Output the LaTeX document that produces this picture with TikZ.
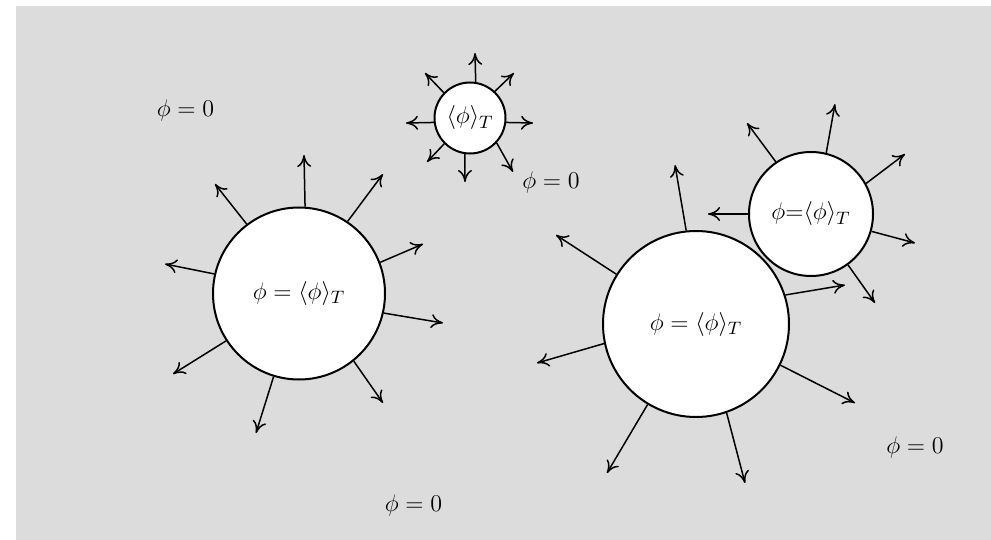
\documentclass[tikz,border=0pt]{standalone}
\usetikzlibrary{arrows.meta}
\definecolor{bggray}{RGB}{220,220,220}
\tikzset{
  bubble/.style={circle, draw=black, line width=1pt, fill=white, inner sep=0pt,
    font=\fontsize{13}{15}\selectfont},
  arr/.style={line width=0.75pt, -{To[length=6pt,width=7pt]}},
  lbl/.style={font=\fontsize{13}{15}\selectfont, inner sep=0pt}
}
\begin{document}
\begin{tikzpicture}[x=0.5pt,y=-0.5pt]
\useasboundingbox (0,0) rectangle (991,540);
\fill[bggray] (16,6) rectangle (991,540);

% circles
\node[bubble, minimum size=35.5pt] (S) at (470,118) {$\langle\phi\rangle_T$};
\node[bubble, minimum size=86pt] (L) at (299,293.5) {$\phi=\langle\phi\rangle_T$};
\node[bubble, minimum size=62pt] (R) at (811,214) {$\phi{=}\langle\phi\rangle_T$};
\node[bubble, minimum size=93pt] (B) at (696,324) {$\phi=\langle\phi\rangle_T$};

% arrows
\foreach \a/\tx/\ty [count=\i] in {81.9/475/53, 47.1/514/73, -7.9/533/123, -43.9/513/172,
    -98.1/465/182, -135/427/162, 187.9/406/123, 136.1/425/73}
  \draw[arr] (S.\a) -- (\tx,\ty) coordinate (S-\i);
\foreach \a/\tx/\ty [count=\i] in {86.8/304/155, 56.5/383/174, 21.2/423/244, -13.4/443/323,
    -51.9/383/403, -107.3/256/433, -147.3/173/374, 167.2/165/264, 127.9/215/184}
  \draw[arr] (L.\a) -- (\tx,\ty) coordinate (L-\i);
\foreach \a/\tx/\ty [count=\i] in {96.8/675/165, 148.3/556/235, 192.9/537/363, -121.9/607/473,
    -71.9/745/483, -26.8/855/403, 18.2/845/285}
  \draw[arr] (B.\a) -- (\tx,\ty) coordinate (B-\i);
\foreach \a/\tx/\ty [count=\i] in {76.4/835/104, 124.9/747/123, 29/905/154, 180/708/214,
    -16.9/915/243, -54.8/875/303}
  \draw[arr] (R.\a) -- (\tx,\ty) coordinate (R-\i);

% outside labels
\node[lbl] (z1) at (185.5,111) {$\phi=0$};
\node[lbl] (z2) at (551,183) {$\phi=0$};
\node[lbl] (z3) at (915,447) {$\phi=0$};
\node[lbl] (z4) at (413.5,505) {$\phi=0$};
\end{tikzpicture}
\end{document}
